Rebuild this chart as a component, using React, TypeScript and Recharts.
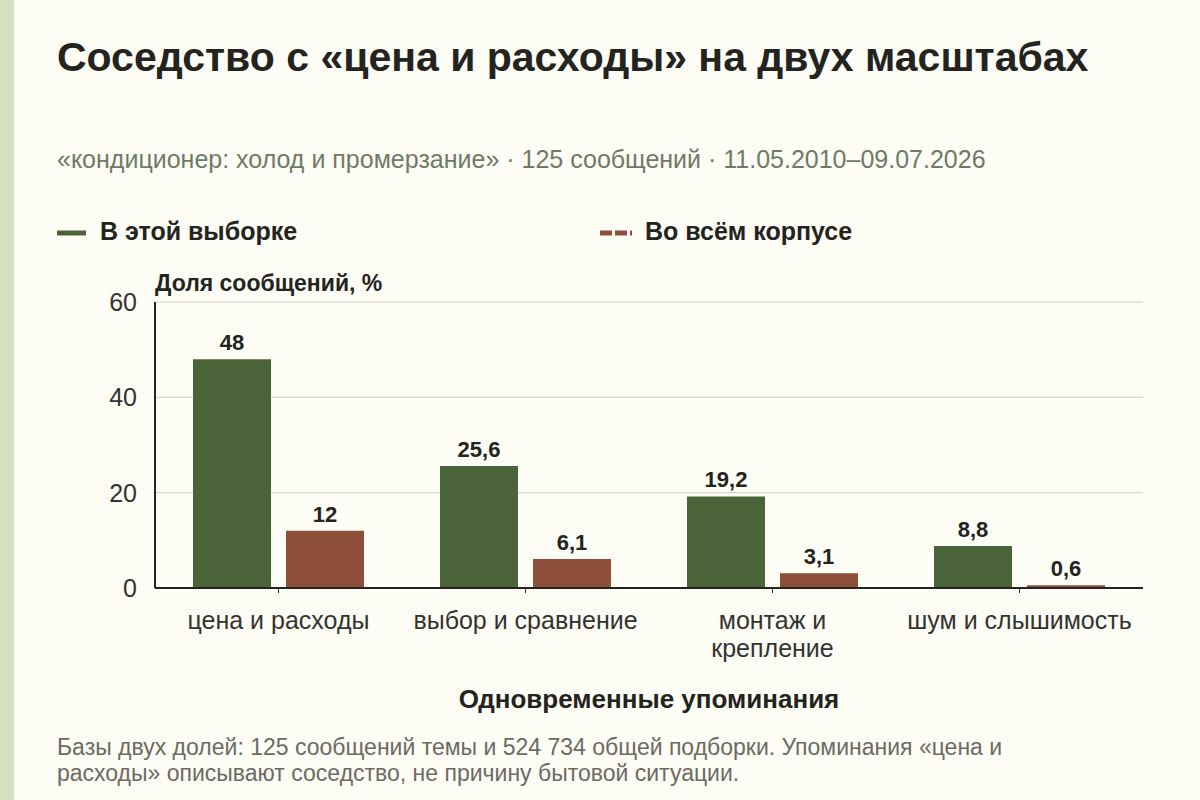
import React from "react";
import {
  BarChart,
  Bar,
  XAxis,
  YAxis,
  CartesianGrid,
  LabelList,
} from "recharts";

const categories = [
  "цена и расходы",
  "выбор и сравнение",
  "монтаж и крепление",
  "шум и слышимость",
];
const sampleShare = [48, 25.6, 19.2, 8.8];
const corpusShare = [12, 6.1, 3.1, 0.6];
const yTicks = [0, 20, 40, 60];

const data = categories.map((name, i) => ({
  name,
  sample: sampleShare[i],
  corpus: corpusShare[i],
}));

const FONT = '"Liberation Sans", Arial, Helvetica, sans-serif';
const GREEN = "#4a6339";
const BROWN = "#8d4f39";
const INK = "#232320";

const fmt = (v: any) => String(v).replace(".", ",");

// wraps long category names onto two lines
function CategoryTick(props: any) {
  const { x, y, payload } = props;
  const text: string = payload.value;
  let lines = [text];
  if (text.length > 17) {
    const words = text.split(" ");
    lines = [words.slice(0, -1).join(" "), words[words.length - 1]];
  }
  return (
    <text
      x={x}
      y={y + 14}
      textAnchor="middle"
      fill="#333330"
      fontSize={25}
      fontFamily={FONT}
    >
      {lines.map((l, i) => (
        <tspan key={i} x={x} dy={i === 0 ? 20 : 28}>
          {l}
        </tspan>
      ))}
    </text>
  );
}

export default function App() {
  return (
    <div
      style={{
        position: "absolute",
        left: 0,
        top: 0,
        width: 1200,
        height: 800,
        background: "#fdfcf5",
        fontFamily: FONT,
        overflow: "hidden",
      }}
    >
      {/* left strip */}
      <div
        style={{
          position: "absolute",
          left: 0,
          top: 0,
          width: 14,
          height: 800,
          background: "#d5e0c3",
        }}
      />

      <div
        style={{
          position: "absolute",
          left: 57,
          top: 34,
          fontSize: 41,
          fontWeight: 700,
          color: INK,
          whiteSpace: "nowrap",
        }}
      >
        Соседство с «цена и расходы» на двух масштабах
      </div>

      <div
        style={{
          position: "absolute",
          left: 57,
          top: 145,
          fontSize: 25,
          color: "#6f7a66",
          whiteSpace: "nowrap",
        }}
      >
        «кондиционер: холод и промерзание» · 125 сообщений · 11.05.2010–09.07.2026
      </div>

      {/* legend */}
      <svg
        style={{ position: "absolute", left: 0, top: 220 }}
        width={700}
        height={24}
      >
        <line x1={57} x2={86} y1={13} y2={13} stroke={GREEN} strokeWidth={5} />
        <line
          x1={600}
          x2={632}
          y1={13}
          y2={13}
          stroke={BROWN}
          strokeWidth={5}
          strokeDasharray="12 3"
        />
      </svg>
      <div
        style={{
          position: "absolute",
          left: 100,
          top: 217,
          fontSize: 25,
          fontWeight: 700,
          color: INK,
        }}
      >
        В этой выборке
      </div>
      <div
        style={{
          position: "absolute",
          left: 645,
          top: 217,
          fontSize: 25,
          fontWeight: 700,
          color: INK,
        }}
      >
        Во всём корпусе
      </div>

      <div
        style={{
          position: "absolute",
          left: 155,
          top: 270,
          fontSize: 23,
          fontWeight: 700,
          color: INK,
        }}
      >
        Доля сообщений, %
      </div>

      <div style={{ position: "absolute", left: 0, top: 0 }}>
        <BarChart
          width={1200}
          height={800}
          data={data}
          margin={{ top: 302, right: 57, bottom: 152, left: 0 }}
          barCategoryGap={38}
          barGap={15}
        >
          <CartesianGrid vertical={false} stroke="#cfcfc6" strokeWidth={1} />
          <XAxis
            dataKey="name"
            height={60}
            tick={<CategoryTick />}
            tickSize={5}
            tickLine={{ stroke: "#333", strokeWidth: 1 }}
            axisLine={{ stroke: INK, strokeWidth: 2 }}
            interval={0}
          />
          <YAxis
            width={155}
            domain={[0, 60]}
            ticks={yTicks}
            tickLine={false}
            tickMargin={12}
            axisLine={{ stroke: INK, strokeWidth: 2 }}
            tick={{ fill: "#333330", fontSize: 25, fontFamily: FONT }}
          />
          <Bar dataKey="sample" fill={GREEN} isAnimationActive={false}>
            <LabelList
              dataKey="sample"
              position="top"
              offset={9}
              formatter={fmt}
              style={{ fill: INK, fontSize: 22, fontWeight: 700, fontFamily: FONT }}
            />
          </Bar>
          <Bar dataKey="corpus" fill={BROWN} isAnimationActive={false}>
            <LabelList
              dataKey="corpus"
              position="top"
              offset={9}
              formatter={fmt}
              style={{ fill: INK, fontSize: 22, fontWeight: 700, fontFamily: FONT }}
            />
          </Bar>
        </BarChart>
      </div>

      <div
        style={{
          position: "absolute",
          left: 155,
          width: 988,
          top: 684,
          textAlign: "center",
          fontSize: 26,
          fontWeight: 700,
          color: INK,
        }}
      >
        Одновременные упоминания
      </div>

      <div
        style={{
          position: "absolute",
          left: 57,
          top: 734,
          width: 1120,
          fontSize: 23,
          lineHeight: "26px",
          color: "#6b6b62",
        }}
      >
        Базы двух долей: 125 сообщений темы и 524 734 общей подборки. Упоминания «цена и
        <br />
        расходы» описывают соседство, не причину бытовой ситуации.
      </div>
    </div>
  );
}
